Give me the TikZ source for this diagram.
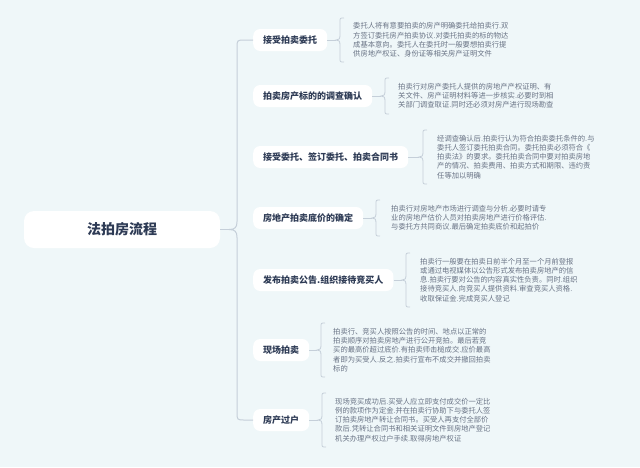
\documentclass[tikz,border=0pt]{standalone}
\usepackage{fontspec}
\setmainfont{Noto Sans CJK SC}
\definecolor{bg}{HTML}{EFF7F9}
\definecolor{ln}{HTML}{C5CFD9}
\definecolor{tt}{HTML}{2E3B55}
\definecolor{dt}{HTML}{697385}
\tikzset{
 branch/.style={fill=white, rounded corners=7pt, minimum height=22pt, inner xsep=10pt, inner ysep=0pt, anchor=west, text=tt, font=\fontsize{9}{11}\selectfont\bfseries},
 rootbox/.style={fill=white, rounded corners=10pt, minimum width=196pt, minimum height=37pt, text=tt, font=\fontsize{14}{16}\selectfont\bfseries},
 detail/.style={anchor=west, align=left, inner sep=0pt, text=dt, font=\fontsize{7.3}{9.2}\selectfont},
 brc/.style={draw=ln, line width=0.8pt},
 trunk/.style={draw=ln, line width=1pt},
}
\newcommand\mybrace[4]{\draw[brc] (#1+4,#2) .. controls (#1,#2) .. (#1,#2+4) -- (#1,#3-5) .. controls (#1,#3-1) and (#1-1,#3) .. (#1-4,#3) .. controls (#1-1,#3) and (#1,#3+1) .. (#1,#3+5) -- (#1,#4-4) .. controls (#1,#4) .. (#1+4,#4);}
\begin{document}
\begin{tikzpicture}[x=1pt,y=-1pt]
\fill[bg] (0,0) rectangle (640,467);
\useasboundingbox (0,0) rectangle (640,467);

\node[rootbox] (root) at (122,229.5) {法拍房流程};

\node[branch] (b1) at (253,40) {接受拍卖委托};
\node[branch] (b2) at (253,96) {拍卖房产标的的调查确认};
\node[branch] (b3) at (253,157) {接受委托、签订委托、拍卖合同书};
\node[branch] (b4) at (253,218) {房地产拍卖底价的确定};
\node[branch] (b5) at (253,280) {发布拍卖公告.组织接待竞买人};
\node[branch] (b6) at (253,350) {现场拍卖};
\node[branch] (b7) at (253,420) {房产过户};

% trunk
\coordinate (n0) at (229,229.5);
\draw[trunk] (root.east) -- (n0);
\draw[trunk] (b1.west) -- (245,40) .. controls (237,40) .. (237,48) -- (237,221.5) .. controls (237,227.5) and (235,229.5) .. (n0) .. controls (235,229.5) and (237,231.5) .. (237,237.5) -- (237,412) .. controls (237,420) .. (245,420) -- (b7.west);

% details
\node[detail] (d1) at (353,40) {委托人将有意要拍卖的房产明确委托给拍卖行.双\\方签订委托房产拍卖协议.对委托拍卖的标的物达\\成基本意向。委托人在委托时一般要想拍卖行提\\供房地产权证、身份证等相关房产证明文件};
\node[detail] (d2) at (398,96) {拍卖行对房产委托人提供的房地产产权证明、有\\关文件、房产证明材料等进一步核实.必要时到相\\关部门调查取证.同时还必须对房产进行现场勘查};
\node[detail] (d3) at (437,157) {经调查确认后.拍卖行认为符合拍卖委托条件的.与\\委托人签订委托拍卖合同。委托拍卖必须符合《\\拍卖法》的要求。委托拍卖合同中要对拍卖房地\\产的情况、拍卖费用、拍卖方式和期限、违约责\\任等加以明确};
\node[detail] (d4) at (391,218) {拍卖行对房地产市场进行调查与分析.必要时请专\\业的房地产估价人员对拍卖房地产进行价格评估.\\与委托方共同商议.最后确定拍卖底价和起拍价};
\node[detail] (d5) at (420,280) {拍卖行一般要在拍卖日前半个月至一个月前登报\\或通过电视媒体以公告形式发布拍卖房地产的信\\息.拍卖行要对公告的内容真实性负责。同时.组织\\接待竞买人.向竞买人提供资料.审查竞买人资格.\\收取保证金.完成竞买人登记};
\node[detail] (d6) at (333,350) {拍卖行、竞买人按照公告的时间、地点以正常的\\拍卖顺序对拍卖房地产进行公开竞拍。最后若竞\\买的最高价超过底价.有拍卖师击槌成交.应价最高\\者即为买受人.反之.拍卖行宣布不成交并撤回拍卖\\标的};
\node[detail] (d7) at (335,420) {现场竞买成功后.买受人应立即支付成交价一定比\\例的款项作为定金.并在拍卖行协助下与委托人签\\订拍卖房地产转让合同书。买受人再支付全部价\\款后.凭转让合同书和相关证明文件到房地产登记\\机关办理产权过户手续.取得房地产权证};

% braces
\coordinate (n1) at (336,40);
\coordinate (n2) at (381,96);
\coordinate (n3) at (419,157);
\coordinate (n4) at (372,218);
\coordinate (n5) at (402,280);
\coordinate (n6) at (317,350);
\coordinate (n7) at (318,420);
\draw[brc] (b1.east) -- (n1);
\draw[brc] (b2.east) -- (n2);
\draw[brc] (b3.east) -- (n3);
\draw[brc] (b4.east) -- (n4);
\draw[brc] (b5.east) -- (n5);
\draw[brc] (b6.east) -- (n6);
\draw[brc] (b7.east) -- (n7);
\mybrace{340}{18}{40}{62}
\mybrace{385}{78}{96}{114}
\mybrace{423}{130}{157}{184}
\mybrace{376}{200}{218}{236}
\mybrace{406}{253}{280}{307}
\mybrace{321}{323}{350}{377}
\mybrace{322}{393}{420}{447}
\end{tikzpicture}
\end{document}
